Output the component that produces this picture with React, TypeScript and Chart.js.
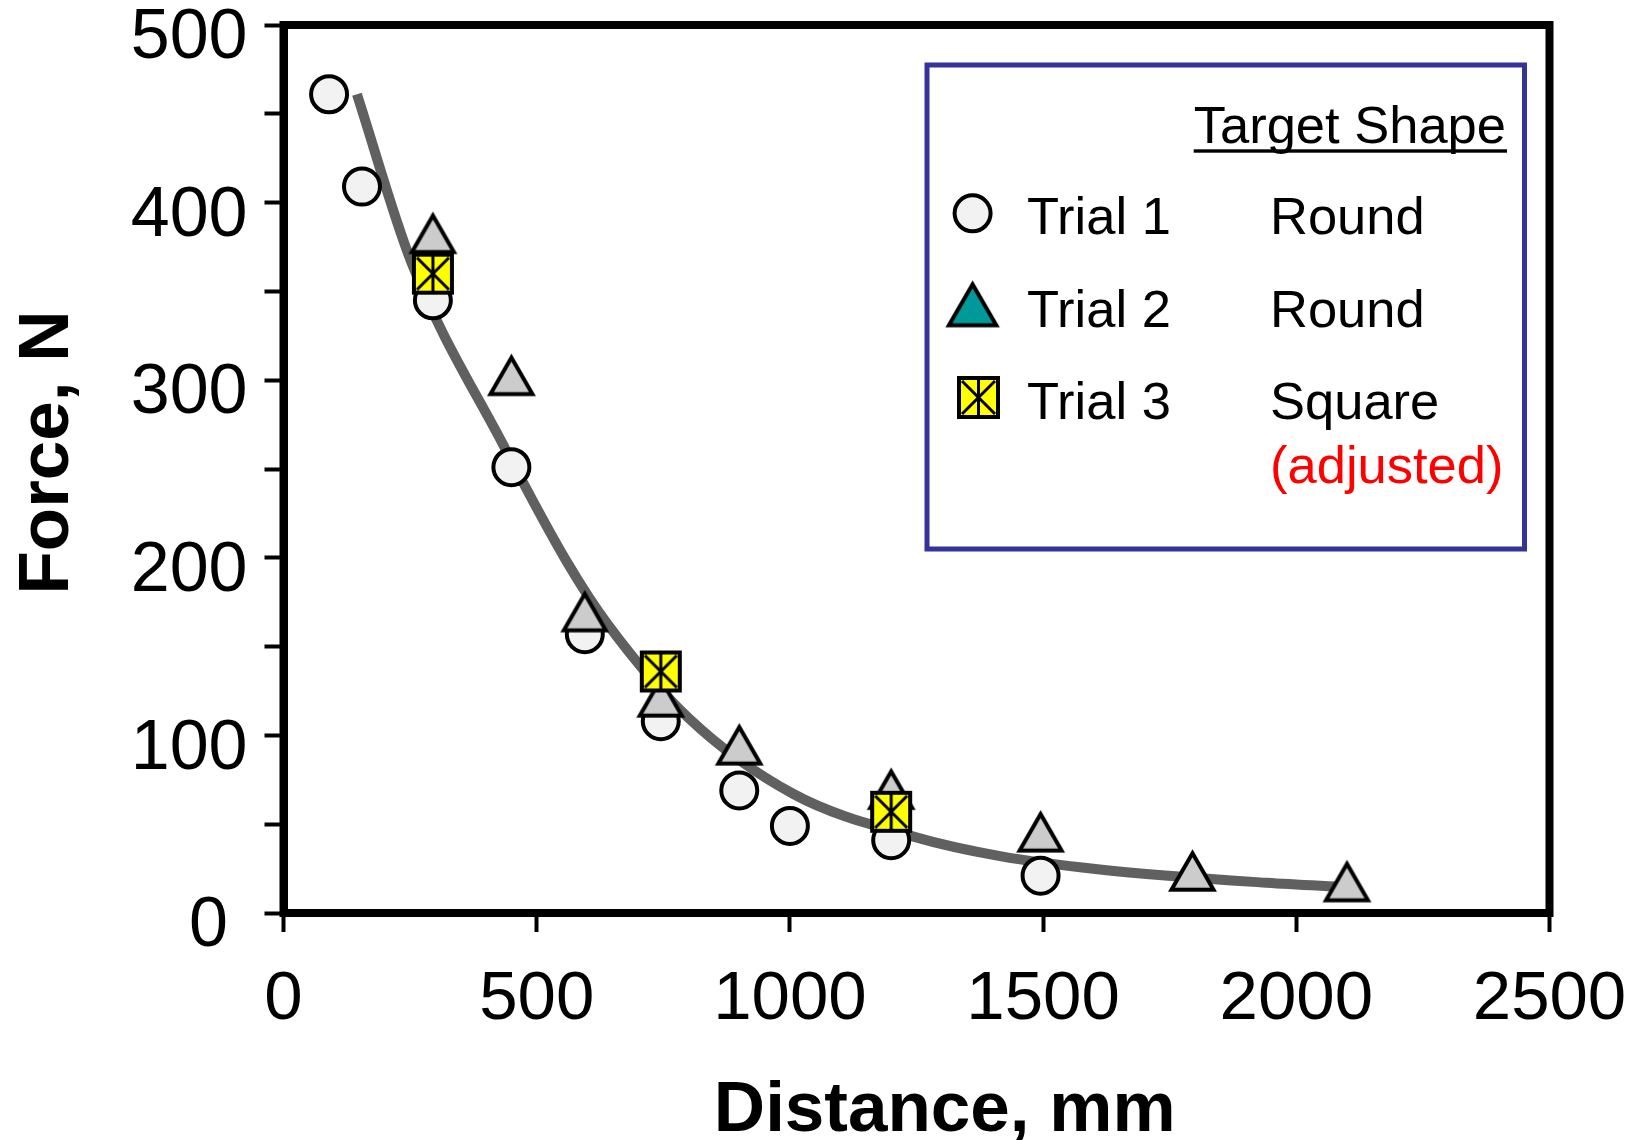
import React, { useEffect, useRef } from 'react';
import { Chart, registerables } from 'chart.js';

Chart.register(...registerables);

const FONT = '"Liberation Sans", Arial, Helvetica, sans-serif';

// Trial 1 (round target) - circles
const trial1X = [90, 155, 295, 450, 595, 745, 900, 1000, 1200, 1495];
const trial1Y = [461, 409, 345, 251, 157, 108, 69, 49, 41, 21];
// Trial 2 (round target) - triangles
const trial2X = [295, 450, 595, 745, 900, 1200, 1495, 1795, 2100];
const trial2Y = [383, 303, 170, 122, 95, 70, 46, 24, 18];
// Trial 3 (square target, adjusted) - yellow squares
const trial3X = [295, 745, 1200];
const trial3Y = [360, 136, 57];
// Trend curve
const fitX = [145, 253, 435, 559, 639, 799, 1007, 1244, 1415, 1612, 1942, 2100];
const fitY = [461, 366, 263, 198, 163, 110, 67, 43, 32, 24.5, 17, 14.5];

const xMin = 0, xMax = 2500, xStep = 500;
const yMin = 0, yMax = 500, yStep = 50, yLabelStep = 100;

const legendRows = [
  { trial: 'Trial 1', shape: 'Round' },
  { trial: 'Trial 2', shape: 'Round' },
  { trial: 'Trial 3', shape: 'Square' },
];
const legendHeading = 'Target Shape';
const legendNote = '(adjusted)';
const xTitle = 'Distance, mm';
const yTitle = 'Force, N';

function makeTriangle(innerW: number, fill: string, lw: number): HTMLCanvasElement {
  const innerH = (innerW * Math.sqrt(3)) / 2;
  const outerW = innerW + lw * Math.sqrt(3);
  const outerH = innerH + lw * 1.5;
  const W = Math.ceil(outerW) + 2;
  const H = Math.ceil(outerH) + 2;
  const c = document.createElement('canvas');
  c.width = W;
  c.height = H;
  const ctx = c.getContext('2d')!;
  const top = (H - outerH) / 2;
  const apexY = top + lw;
  const baseY = apexY + innerH;
  ctx.beginPath();
  ctx.moveTo(W / 2, apexY);
  ctx.lineTo(W / 2 + innerW / 2, baseY);
  ctx.lineTo(W / 2 - innerW / 2, baseY);
  ctx.closePath();
  ctx.fillStyle = fill;
  ctx.fill();
  ctx.lineJoin = 'miter';
  ctx.lineWidth = lw;
  ctx.strokeStyle = '#000';
  ctx.stroke();
  return c;
}

function makeSquare(size: number, lw: number): HTMLCanvasElement {
  const W = Math.ceil(size + lw) + 2;
  const c = document.createElement('canvas');
  c.width = W;
  c.height = W;
  const ctx = c.getContext('2d')!;
  const cx = W / 2;
  const h = size / 2;
  ctx.fillStyle = '#ffff00';
  ctx.fillRect(cx - h, cx - h, size, size);
  ctx.lineWidth = lw;
  ctx.strokeStyle = '#000';
  ctx.lineJoin = 'miter';
  ctx.strokeRect(cx - h, cx - h, size, size);
  const a = h - 3;
  ctx.lineWidth = 3;
  ctx.beginPath();
  ctx.moveTo(cx - a, cx - a);
  ctx.lineTo(cx + a, cx + a);
  ctx.moveTo(cx + a, cx - a);
  ctx.lineTo(cx - a, cx + a);
  ctx.moveTo(cx, cx - h);
  ctx.lineTo(cx, cx + h);
  ctx.stroke();
  return c;
}

export default function App() {
  const canvasRef = useRef<HTMLCanvasElement | null>(null);

  useEffect(() => {
    const canvas = canvasRef.current;
    if (!canvas) return;

    const triMarker = makeTriangle(42, '#cccccc', 4);
    const sqMarker = makeSquare(38, 4);
    const legendTri = makeTriangle(47.5, '#009999', 4);
    const legendSq = makeSquare(39, 4);

    const framePlugin = {
      id: 'frameAndLegend',
      afterDraw(chart: any) {
        const ctx: CanvasRenderingContext2D = chart.ctx;
        const a = chart.chartArea;
        ctx.save();
        // plot frame
        ctx.strokeStyle = '#000';
        ctx.lineWidth = 8;
        ctx.lineJoin = 'miter';
        ctx.strokeRect(a.left, a.top, a.right - a.left, a.bottom - a.top);

        // legend box
        ctx.fillStyle = '#ffffff';
        ctx.fillRect(927, 65, 597.5, 484);
        ctx.strokeStyle = '#333399';
        ctx.lineWidth = 5;
        ctx.strokeRect(927, 65, 597.5, 484);

        ctx.fillStyle = '#000';
        ctx.font = `52.5px ${FONT}`;
        ctx.textAlign = 'left';
        ctx.textBaseline = 'alphabetic';
        ctx.fillText(legendHeading, 1193.7, 143);
        const hw = ctx.measureText(legendHeading).width;
        ctx.fillRect(1193.7, 149.3, hw + 1, 3.4);

        const rowsY = [234, 327, 419];
        legendRows.forEach((r, i) => {
          ctx.fillStyle = '#000';
          ctx.fillText(r.trial, 1027, rowsY[i]);
          ctx.fillText(r.shape, 1270, rowsY[i]);
        });
        ctx.fillStyle = '#ff0000';
        ctx.fillText(legendNote, 1270, 483);

        // legend markers
        ctx.beginPath();
        ctx.arc(972.6, 213.3, 18, 0, Math.PI * 2);
        ctx.fillStyle = '#f2f2f2';
        ctx.fill();
        ctx.lineWidth = 4;
        ctx.strokeStyle = '#000';
        ctx.stroke();
        ctx.drawImage(legendTri, 972.6 - legendTri.width / 2, 303.8 - legendTri.height / 2);
        ctx.drawImage(legendSq, 978.5 - legendSq.width / 2, 397.5 - legendSq.height / 2);

        // axis titles
        ctx.fillStyle = '#000';
        ctx.font = `bold 71px ${FONT}`;
        ctx.textAlign = 'center';
        ctx.textBaseline = 'alphabetic';
        ctx.fillText(xTitle, 944.7, 1130.7);
        ctx.translate(68.3, 452.5);
        ctx.rotate(-Math.PI / 2);
        ctx.fillText(yTitle, 0, 0);
        ctx.restore();
      },
    };

    const gridOpts = {
      display: true,
      drawOnChartArea: false,
      drawTicks: true,
      tickLength: 19,
      tickWidth: 4,
      tickColor: '#000',
    };
    const borderOpts = { display: true, width: 8, color: '#000' };

    const chart = new Chart(canvas, {
      type: 'scatter',
      data: {
        datasets: [
          {
            label: 'Trial 3',
            data: trial3X.map((x, i) => ({ x, y: trial3Y[i] })),
            pointStyle: sqMarker as any,
            pointRadius: 21,
            order: 0,
          },
          {
            label: 'Trial 2',
            data: trial2X.map((x, i) => ({ x, y: trial2Y[i] })),
            pointStyle: triMarker as any,
            pointRadius: 24,
            order: 1,
          },
          {
            label: 'Trial 1',
            data: trial1X.map((x, i) => ({ x, y: trial1Y[i] })),
            pointStyle: 'circle',
            pointRadius: 18,
            pointBorderWidth: 4,
            pointBackgroundColor: '#f2f2f2',
            pointBorderColor: '#000',
            order: 2,
          },
          {
            label: 'Trend',
            data: fitX.map((x, i) => ({ x, y: fitY[i] })),
            showLine: true,
            pointRadius: 0,
            borderColor: '#606060',
            borderWidth: 10,
            cubicInterpolationMode: 'monotone',
            order: 3,
          } as any,
        ],
      },
      options: {
        responsive: false,
        animation: false,
        devicePixelRatio: 1,
        layout: { padding: { left: 0, top: 21, right: 83.5, bottom: 0 } },
        plugins: {
          legend: { display: false },
          tooltip: { enabled: false },
          title: { display: false },
        },
        scales: {
          x: {
            type: 'linear',
            position: 'bottom',
            min: xMin,
            max: xMax,
            ticks: {
              stepSize: xStep,
              autoSkip: false,
              maxRotation: 0,
              color: '#000',
              padding: 27,
              font: { family: FONT, size: 69 },
              callback: (v: any) => String(Number(v)),
            },
            grid: gridOpts as any,
            border: borderOpts as any,
            afterFit(s: any) {
              s.height = 227;
              s.paddingLeft = 0;
              s.paddingRight = 0;
            },
          },
          y: {
            type: 'linear',
            position: 'left',
            min: yMin,
            max: yMax,
            ticks: {
              stepSize: yStep,
              autoSkip: false,
              color: '#000',
              padding: 17,
              labelOffset: 14,
              font: { family: FONT, size: 70 },
              callback: (v: any) => {
                const n = Number(v);
                if (n % yLabelStep !== 0) return '';
                return n === 0 ? '0 ' : String(n);
              },
            },
            grid: gridOpts as any,
            border: borderOpts as any,
            afterFit(s: any) {
              s.width = 283.5;
              s.paddingTop = 0;
              s.paddingBottom = 0;
            },
          },
        },
      } as any,
      plugins: [framePlugin],
    });

    return () => {
      chart.destroy();
    };
  }, []);

  return (
    <div style={{ position: 'fixed', left: 0, top: 0, width: 1633, height: 1140, background: '#fff' }}>
      <canvas ref={canvasRef} width={1633} height={1140} style={{ width: 1633, height: 1140, display: 'block' }} />
    </div>
  );
}
